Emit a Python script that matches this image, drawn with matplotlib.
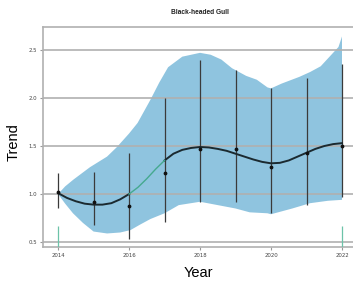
import numpy as np
import matplotlib.pyplot as plt

# yearly index estimates with their intervals
years = [2014, 2015, 2016, 2017, 2018, 2019, 2020, 2021, 2022]
index = [1.02, 0.92, 0.875, 1.22, 1.47, 1.47, 1.28, 1.43, 1.50]
err_lo = [0.86, 0.68, 0.53, 0.71, 0.92, 0.92, 0.80, 0.89, 0.97]
err_hi = [1.22, 1.23, 1.43, 2.00, 2.40, 2.29, 2.10, 2.21, 2.35]

# smoothed trend
trend_x = [2014.0, 2014.25, 2014.5, 2014.75, 2015.0, 2015.25, 2015.5, 2015.75,
           2016.0, 2016.25, 2016.5, 2016.75, 2017.0, 2017.25, 2017.5, 2017.75,
           2018.0, 2018.25, 2018.5, 2018.75, 2019.0, 2019.25, 2019.5, 2019.75,
           2020.0, 2020.25, 2020.5, 2020.75, 2021.0, 2021.25, 2021.5, 2021.75, 2022.0]
trend_y = [1.01, 0.96, 0.925, 0.90, 0.89, 0.89, 0.905, 0.945,
           1.00, 1.07, 1.16, 1.26, 1.35, 1.42, 1.46, 1.48,
           1.49, 1.485, 1.47, 1.45, 1.42, 1.39, 1.36, 1.335,
           1.32, 1.325, 1.35, 1.39, 1.43, 1.47, 1.50, 1.52, 1.53]

# confidence band
band_up_x = [2014.0, 2014.2, 2014.43, 2014.9, 2015.38, 2015.66, 2016.0, 2016.24,
             2016.6, 2016.85, 2017.1, 2017.5, 2018.0, 2018.3, 2018.6, 2018.9,
             2019.3, 2019.6, 2019.9, 2020.0, 2020.3, 2020.8, 2021.1, 2021.4,
             2021.7, 2021.9, 2022.0]
band_up_y = [1.00, 1.08, 1.15, 1.28, 1.39, 1.49, 1.63, 1.74,
             1.98, 2.16, 2.32, 2.43, 2.47, 2.45, 2.40, 2.31,
             2.23, 2.19, 2.11, 2.10, 2.15, 2.22, 2.27, 2.33,
             2.45, 2.53, 2.64]
band_lo_x = [2014.0, 2014.2, 2014.42, 2014.7, 2015.0, 2015.38, 2015.75, 2016.04,
             2016.3, 2016.6, 2017.0, 2017.4, 2018.0, 2018.5, 2019.0, 2019.4,
             2019.9, 2020.0, 2020.6, 2021.1, 2021.6, 2022.0]
band_lo_y = [1.00, 0.90, 0.80, 0.70, 0.61, 0.59, 0.60, 0.625,
             0.68, 0.74, 0.80, 0.885, 0.92, 0.885, 0.85, 0.81,
             0.80, 0.79, 0.85, 0.905, 0.93, 0.94]

# significant increase segment
green_from, green_to = 2016.0, 2017.0
first_last = [2014, 2022]

fig = plt.figure(figsize=(3.53, 2.86), dpi=100)
ax = fig.add_axes([0.122, 0.136, 0.878, 0.770])

bx = np.concatenate([band_up_x, band_lo_x[::-1]])
by = np.concatenate([band_up_y, band_lo_y[::-1]])
ax.fill(bx, by, color="#8fc4df", lw=0, zorder=1)

for v in [0.5, 1.0, 1.5, 2.0, 2.5]:
    ax.axhline(v, color="#b0b0b0", lw=1.2, zorder=2)

ax.vlines(years, err_lo, err_hi, color="#3a3a3a", lw=0.9, zorder=3)
ax.scatter(years, index, s=3, color="#111111", zorder=5)

tx = np.array(trend_x)
ty = np.array(trend_y)
before = tx <= green_from
mid = (tx >= green_from) & (tx <= green_to)
after = tx >= green_to
ax.plot(tx[before], ty[before], color="#1b2a30", lw=1.4, zorder=4)
ax.plot(tx[after], ty[after], color="#1b2a30", lw=1.4, zorder=4)
ax.plot(tx[mid], ty[mid], color="#45a98f", lw=1.0, zorder=4)

ax.vlines(first_last, 0.448, 0.67, color="#6cc3a8", lw=0.9, zorder=3)

ax.set_xlim(2013.577, 2022.31)
ax.set_ylim(0.448, 2.74)
ax.set_xticks([2014, 2016, 2018, 2020, 2022])
ax.set_yticks([0.5, 1.0, 1.5, 2.0, 2.5])
ax.set_yticklabels(["0.5", "1.0", "1.5", "2.0", "2.5"])
ax.tick_params(labelsize=3.9, colors="#999999", labelcolor="#444444",
               length=2.5, width=0.8, pad=2)

for s in ["left", "bottom", "top"]:
    ax.spines[s].set_color("#b0b0b0")
    ax.spines[s].set_linewidth(1.2)
ax.spines["right"].set_visible(False)

fig.text(0.567, 0.955, "Black-headed Gull", ha="center", va="center",
         fontsize=4.8, fontweight="bold", family="Liberation Sans", color="#222222")
fig.text(0.561, 0.045, "Year", ha="center", va="center",
         fontsize=10.5, family="Liberation Sans")
fig.text(0.04, 0.505, "Trend", ha="center", va="center", rotation=90,
         fontsize=10.5, family="Liberation Sans")

plt.savefig("out.png", dpi=100)
